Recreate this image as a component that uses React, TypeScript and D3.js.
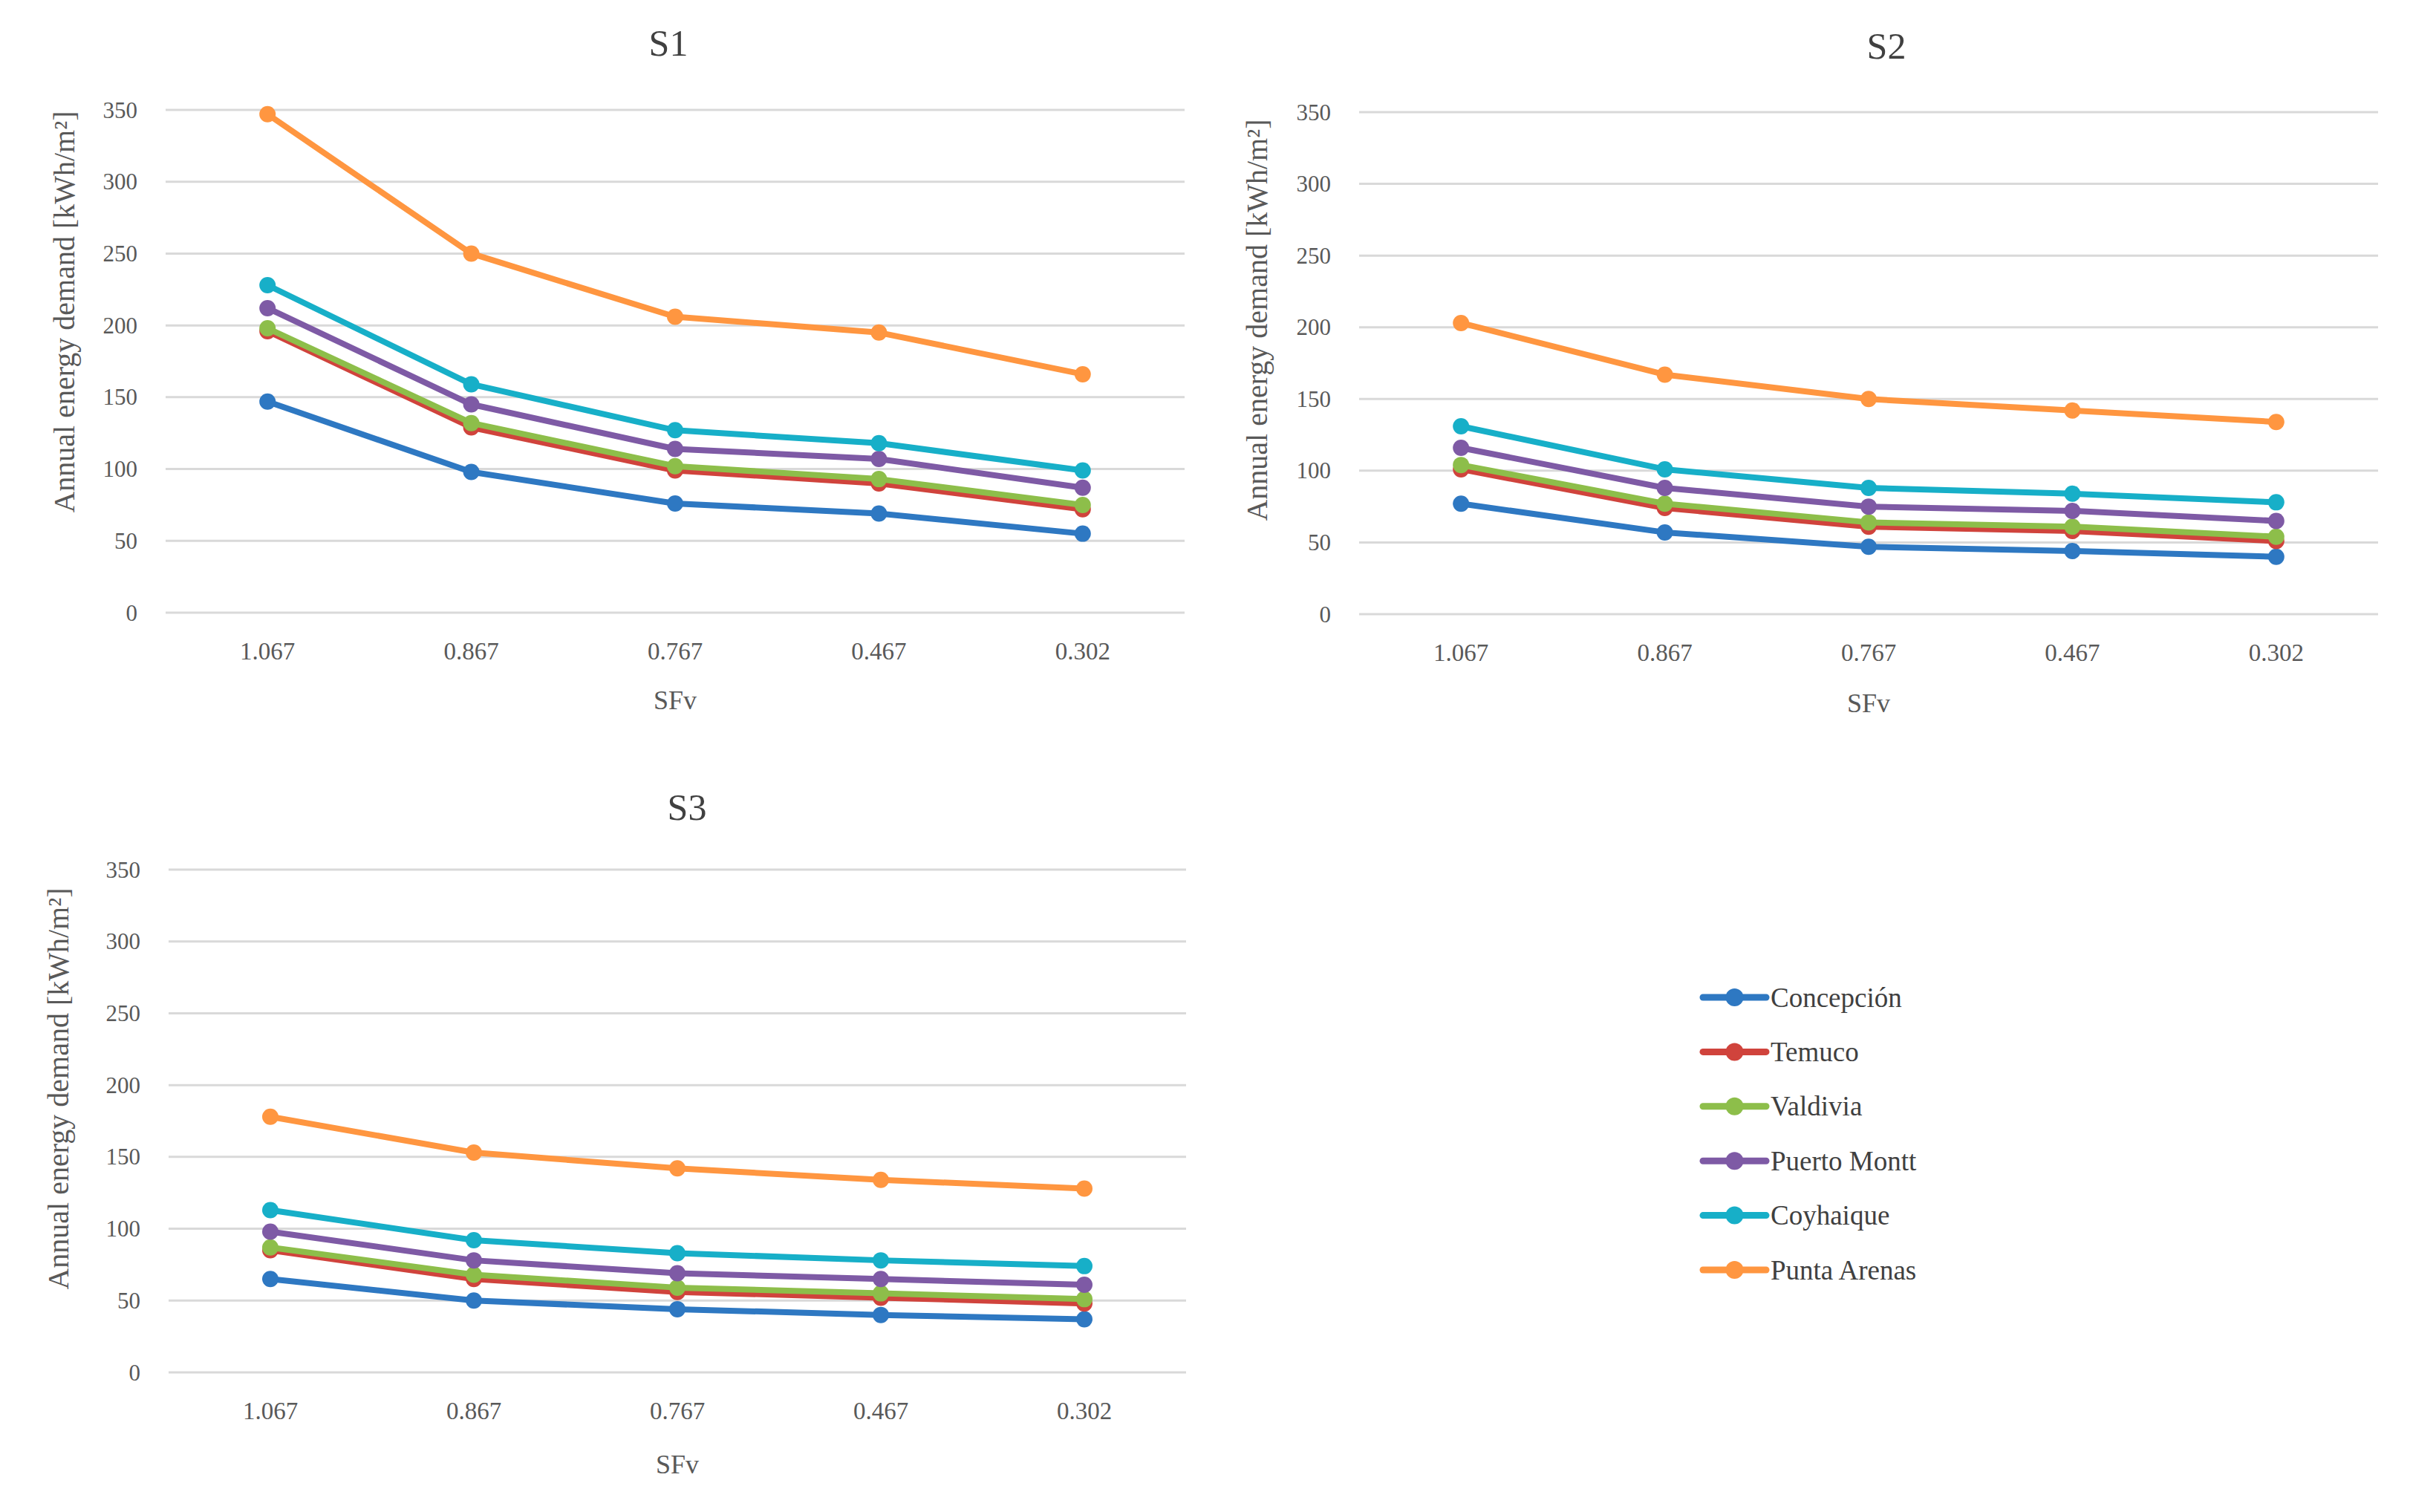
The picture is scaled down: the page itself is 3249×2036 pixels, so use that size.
import React from "react";
import * as d3 from "d3";

const categories = ["1.067", "0.867", "0.767", "0.467", "0.302"];
const seriesNames = ["Concepción", "Temuco", "Valdivia", "Puerto Montt", "Coyhaique", "Punta Arenas"];
const seriesColors = ["#2E78C2", "#D0433C", "#8DBE4A", "#7E5AA5", "#17AFC8", "#FF9640"];
const yTicks = [0, 50, 100, 150, 200, 250, 300, 350];

const s1Concepcion = [147, 98, 76, 69, 55];
const s1Temuco = [196, 129, 99, 90, 72];
const s1Valdivia = [198, 132, 102, 93, 75];
const s1PuertoMontt = [212, 145, 114, 107, 87];
const s1Coyhaique = [228, 159, 127, 118, 99];
const s1PuntaArenas = [347, 250, 206, 195, 166];

const s2Concepcion = [77, 57, 47, 44, 40];
const s2Temuco = [101, 74, 61, 58, 51];
const s2Valdivia = [104, 77, 64, 61, 54];
const s2PuertoMontt = [116, 88, 75, 72, 65];
const s2Coyhaique = [131, 101, 88, 84, 78];
const s2PuntaArenas = [203, 167, 150, 142, 134];

const s3Concepcion = [65, 50, 44, 40, 37];
const s3Temuco = [85, 65, 56, 52, 48];
const s3Valdivia = [87, 68, 59, 55, 51];
const s3PuertoMontt = [98, 78, 69, 65, 61];
const s3Coyhaique = [113, 92, 83, 78, 74];
const s3PuntaArenas = [178, 153, 142, 134, 128];

const panelTitles = ["S1", "S2", "S3"];
const yAxisTitle = "Annual energy demand [kWh/m²]";
const xAxisTitle = "SFv";

const panelData = [
  [s1Concepcion, s1Temuco, s1Valdivia, s1PuertoMontt, s1Coyhaique, s1PuntaArenas],
  [s2Concepcion, s2Temuco, s2Valdivia, s2PuertoMontt, s2Coyhaique, s2PuntaArenas],
  [s3Concepcion, s3Temuco, s3Valdivia, s3PuertoMontt, s3Coyhaique, s3PuntaArenas],
];

const FONT = "'Liberation Serif', 'DejaVu Serif', serif";

const panelLayouts = [
  { left: 223, right: 1595, top: 148, bottom: 825, titleX: 900, titleY: 58, yLabX: 86, yLabY: 420, xLabY: 943 },
  { left: 1830, right: 3202, top: 151, bottom: 827, titleX: 2540, titleY: 62, yLabX: 1692, yLabY: 431, xLabY: 947 },
  { left: 227, right: 1597, top: 1171, bottom: 1848, titleX: 925, titleY: 1087, yLabX: 78, yLabY: 1466, xLabY: 1972 },
];

function Panel({ idx }: { idx: number }) {
  const L = panelLayouts[idx];
  const data = panelData[idx];
  const x = d3.scalePoint<string>().domain(categories).range([L.left, L.right]).padding(0.5);
  const y = d3.scaleLinear().domain([0, 350]).range([L.bottom, L.top]);
  const line = d3
    .line<number>()
    .x((_, i) => x(categories[i]) as number)
    .y((v) => y(v));
  const xMid = (L.left + L.right) / 2;
  return (
    <g>
      <text x={L.titleX} y={L.titleY} textAnchor="middle" dominantBaseline="central" fontFamily={FONT} fontSize={50} fill="#404040">
        {panelTitles[idx]}
      </text>
      {yTicks.map((t) => (
        <g key={t}>
          <line x1={L.left} x2={L.right} y1={y(t)} y2={y(t)} stroke="#D9D9D9" strokeWidth={3} />
          <text x={L.left - 38} y={y(t)} textAnchor="end" dominantBaseline="central" fontFamily={FONT} fontSize={31} fill="#595959">
            {t}
          </text>
        </g>
      ))}
      {categories.map((c) => (
        <text key={c} x={x(c)} y={L.bottom + 52} textAnchor="middle" dominantBaseline="central" fontFamily={FONT} fontSize={33} fill="#595959">
          {c}
        </text>
      ))}
      <text
        transform={`translate(${L.yLabX},${L.yLabY}) rotate(-90)`}
        textAnchor="middle"
        dominantBaseline="central"
        fontFamily={FONT}
        fontSize={40}
        fill="#595959"
      >
        {yAxisTitle}
      </text>
      <text x={xMid} y={L.xLabY} textAnchor="middle" dominantBaseline="central" fontFamily={FONT} fontSize={36} fill="#595959">
        {xAxisTitle}
      </text>
      {data.map((vals, si) => (
        <g key={si}>
          <path d={line(vals) || ""} fill="none" stroke={seriesColors[si]} strokeWidth={8} strokeLinejoin="round" />
          {vals.map((v, i) => (
            <circle key={i} cx={x(categories[i])} cy={y(v)} r={11} fill={seriesColors[si]} />
          ))}
        </g>
      ))}
    </g>
  );
}

function Legend() {
  const x0 = 2293;
  const x1 = 2378;
  const yScale = d3.scalePoint<string>().domain(seriesNames).range([1343, 1710]);
  return (
    <g>
      {seriesNames.map((n, i) => {
        const yy = yScale(n) as number;
        return (
          <g key={n}>
            <line x1={x0} x2={x1} y1={yy} y2={yy} stroke={seriesColors[i]} strokeWidth={9} strokeLinecap="round" />
            <circle cx={(x0 + x1) / 2} cy={yy} r={12} fill={seriesColors[i]} />
            <text x={x1 + 6} y={yy} dominantBaseline="central" fontFamily={FONT} fontSize={37} fill="#404040">
              {n}
            </text>
          </g>
        );
      })}
    </g>
  );
}

export default function App() {
  return (
    <svg
      width={3249}
      height={2036}
      viewBox="0 0 3249 2036"
      style={{ position: "absolute", left: 0, top: 0, background: "#ffffff" }}
    >
      <rect x={0} y={0} width={3249} height={2036} fill="#ffffff" />
      <Panel idx={0} />
      <Panel idx={1} />
      <Panel idx={2} />
      <Legend />
    </svg>
  );
}
